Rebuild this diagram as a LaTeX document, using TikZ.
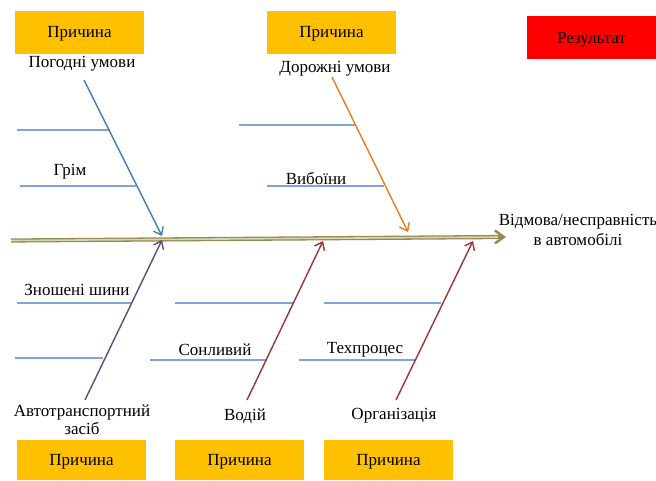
\documentclass[tikz,border=0pt]{standalone}
\usepackage{fontspec}
\setmainfont{Liberation Serif}
\usetikzlibrary{arrows.meta,calc}
\definecolor{cause}{HTML}{FFC000}
\definecolor{rib}{HTML}{7FA6D8}
\definecolor{bblue}{HTML}{4A7EBB}
\definecolor{borange}{HTML}{F07A1E}
\definecolor{bpurple}{HTML}{604A7B}
\definecolor{bred}{HTML}{953735}
\definecolor{spine}{HTML}{948A54}
\definecolor{spinein}{HTML}{D9D4B4}
\tikzset{
  x=1pt, y=-1pt,
  causebox/.style={fill=cause, draw=none, minimum width=129pt, minimum height=43pt, inner sep=0pt, text height=15pt, text depth=3.7pt, font=\fontsize{17}{19}\selectfont},
  resbox/.style={fill=red, draw=none, minimum width=129pt, minimum height=43pt, inner sep=0pt, text height=15pt, text depth=3.7pt, font=\fontsize{17}{19}\selectfont},
  lbl/.style={inner sep=0pt, font=\fontsize{17}{18}\selectfont, align=center},
  ribline/.style={draw=rib, line width=1.3pt},
  bone/.style={line width=1.4pt, -{Straight Barb[length=7pt,width=11pt,line width=1.4pt]}},
}
\begin{document}
\begin{tikzpicture}
\useasboundingbox (0,0) rectangle (656,480);
% boxes
\node[causebox] (c1) at (79.5,32) {Причина};
\node[causebox] (c2) at (331.5,32) {Причина};
\node[resbox] (res) at (591.5,37.5) {Результат};
\node[causebox, minimum height=40pt] (c3) at (81.5,460) {Причина};
\node[causebox, minimum height=40pt] (c4) at (239.5,460) {Причина};
\node[causebox, minimum height=40pt] (c5) at (388.5,460) {Причина};
% labels
\node[lbl] (l1) at (82,64) {Погодні умови};
\node[lbl] (l2) at (335,69) {Дорожні умови};
\node[lbl] (l3) at (70,172) {Грім};
\node[lbl] (l4) at (316,178) {Вибоїни};
\node[lbl, font=\fontsize{17}{20}\selectfont] (l5) at (578,230) {Відмова/несправність\\в автомобілі};
\node[lbl] (l6) at (77,290) {Зношені шини};
\node[lbl] (l7) at (215,350) {Сонливий};
\node[lbl] (l8) at (365,350) {Техпроцес};
\node[lbl] (l9) at (82,420) {Автотранспортний\\засіб};
\node[lbl] (l10) at (245,416) {Водій};
\node[lbl] (l11) at (394,416) {Організація};
% spine
\coordinate (s0) at (11,240.5);
\coordinate (s1) at (506,237);
\draw[spine, line width=4.2pt] (s0) -- ($(s1)+(-4,0)$);
\draw[spinein, line width=1.6pt] (s0) -- ($(s1)+(-6,0)$);
\draw[spine, line width=2.5pt, -{Straight Barb[length=9pt,width=13pt,line width=2.5pt]}] ($(s1)+(-8,0)$) -- (s1);
% ribs
\coordinate (r1a) at (17,130); \coordinate (r1b) at (110,130);
\coordinate (r2a) at (20,186); \coordinate (r2b) at (136,186);
\coordinate (r3a) at (239,125); \coordinate (r3b) at (356,125);
\coordinate (r4a) at (267,186); \coordinate (r4b) at (384,186);
\coordinate (r5a) at (17,303); \coordinate (r5b) at (131,303);
\coordinate (r6a) at (15,358); \coordinate (r6b) at (103,358);
\coordinate (r7a) at (175,303); \coordinate (r7b) at (293,303);
\coordinate (r8a) at (150,360); \coordinate (r8b) at (267,360);
\coordinate (r9a) at (324,303); \coordinate (r9b) at (441,303);
\coordinate (r10a) at (299,360); \coordinate (r10b) at (415,360);
\foreach \i in {1,...,10} \draw[ribline] (r\i a) -- (r\i b);
% bones
\coordinate (b1s) at (84,80);   \coordinate (b1e) at (162,236);
\coordinate (b2s) at (332,77);  \coordinate (b2e) at (408,232);
\coordinate (b3s) at (85,400);  \coordinate (b3e) at (162,240);
\coordinate (b4s) at (247,400); \coordinate (b4e) at (323,241);
\coordinate (b5s) at (396,400); \coordinate (b5e) at (473,241);
\draw[bone, bblue] (b1s) -- (b1e);
\draw[bone, borange] (b2s) -- (b2e);
\draw[bone, bpurple] (b3s) -- (b3e);
\draw[bone, bred] (b4s) -- (b4e);
\draw[bone, bred] (b5s) -- (b5e);
\end{tikzpicture}
\end{document}
